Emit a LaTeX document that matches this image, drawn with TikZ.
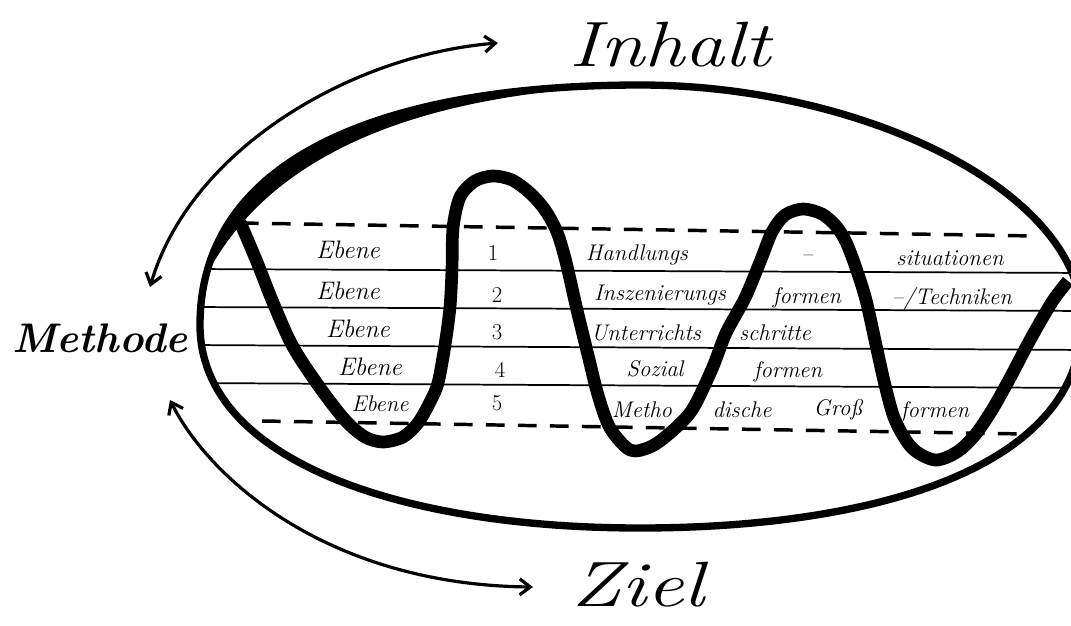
\documentclass[tikz,border=0pt]{standalone}
\usepackage{graphicx}
\usetikzlibrary{arrows.meta}
\begin{document}
\begin{tikzpicture}[x=0.75pt,y=-0.75pt,
  lbl/.style={inner sep=0pt, font=\fontsize{17}{19}\selectfont\itshape},
  lvl/.style={inner sep=0pt, font=\fontsize{19}{21}\selectfont\itshape},
  num/.style={inner sep=0pt, font=\fontsize{17}{19}\selectfont},
  big/.style={inner sep=0pt, font=\fontsize{48}{52}\selectfont\itshape},
  heavy/.style={inner sep=0pt, font=\fontsize{31}{35}\selectfont\bfseries\itshape},
  rule/.style={line width=1.3pt},
  dashrule/.style={line width=2.6pt, dash pattern=on 14pt off 10pt},
  wave/.style={line width=9.5pt, line cap=butt, line join=round},
  rim/.style={line width=5.5pt},
  cycleline/.style={line width=2.4pt, {Straight Barb[length=8pt,width=12pt]}-{Straight Barb[length=8pt,width=12pt]}}
]
\useasboundingbox (0,0) rectangle (1071,625);
\fill[white] (0,0) rectangle (1071,625);

% horizontal rules inside the oval
\begin{scope}
\clip (200,325) .. controls (200,150) and (400,85) .. (640,85)
  .. controls (860,85) and (1082,190) .. (1082,320)
  .. controls (1082,470) and (870,528) .. (640,528)
  .. controls (400,528) and (200,460) .. (200,325) -- cycle;
\coordinate (r1a) at (190,269); \coordinate (r1b) at (1090,273);
\coordinate (r2a) at (190,307); \coordinate (r2b) at (1090,311);
\coordinate (r3a) at (190,345); \coordinate (r3b) at (1090,350);
\coordinate (r4a) at (190,383); \coordinate (r4b) at (1090,388);
\draw[rule] (r1a) -- (r1b);
\draw[rule] (r2a) -- (r2b);
\draw[rule] (r3a) -- (r3b);
\draw[rule] (r4a) -- (r4b);
\end{scope}

% dashed bounds
\coordinate (dta) at (240,223); \coordinate (dtb) at (1035,236);
\coordinate (dba) at (262,421); \coordinate (dbb) at (1025,434);
\draw[dashrule] (dta) -- (dtb);
\draw[dashrule] (dba) -- (dbb);

% the wave
\draw[wave] plot[smooth, tension=0.5] coordinates {(240,222) (257,262) (272,300) (292,345) (318,385) (345,420) (365,437) (383,442) (403,437) (418,423) (430,402) (438,383) (445,345) (450,307) (452,269) (453,228) (460,197) (475,181) (493,176) (512,180) (530,193) (545,210) (557,232) (566,262) (577,310) (588,355) (598,395) (610,428) (630,450) (650,447) (670,433) (692,410) (712,369) (726,333) (745,298) (760,262) (772,232) (785,215) (803,209) (822,214) (836,226) (846,242) (856,268) (866,300) (876,345) (885,385) (895,420) (912,448) (935,460) (957,452) (975,435) (992,410) (1010,378) (1030,340) (1052,302) (1068,281)};

% the oval
\draw[rim] (200,325) .. controls (200,150) and (400,85) .. (640,85)
  .. controls (860,85) and (1082,190) .. (1082,320)
  .. controls (1082,470) and (870,528) .. (640,528)
  .. controls (400,528) and (200,460) .. (200,325) -- cycle;
\fill (200,325) .. controls (200,150) and (400,85) .. (640,85)
  .. controls (440,92) and (275,143) .. (206,276) -- cycle;

% names and cycle arrows
\node[big] (inhalt) at (670,45) {\scalebox{1.25}[1]{Inhalt}};
\node[heavy] (methode) at (100,338) {Methode};
\node[big] (ziel) at (638,585) {\scalebox{1.3}[1]{Ziel}};
\coordinate (ia) at (150,287); \coordinate (ib) at (498,43);
\coordinate (za) at (170,400); \coordinate (zb) at (533,587);
\draw[cycleline] (ia) .. controls (190,150) and (350,55) .. (ib);
\draw[cycleline] (za) .. controls (210,480) and (330,585) .. (zb);

% level labels
\node[lvl] (e1) at (348,250) {Ebene};
\node[lvl] (e2) at (348,291) {Ebene};
\node[lvl] (e3) at (358,329) {Ebene};
\node[lvl] (e4) at (370,367) {Ebene};
\node[lbl] (e5) at (380,404) {Ebene};
\node[num] (n1) at (493,253) {1};
\node[num] (n2) at (497,295) {2};
\node[num] (n3) at (497,332) {3};
\node[num] (n4) at (500,370) {4};
\node[num] (n5) at (497,403) {5};

\node[lbl] (t1a) at (637,255) {Handlungs};
\node[lbl] (t1b) at (807,258) {--};
\node[lbl] (t1c) at (950,258) {situationen};
\node[lbl] (t2a) at (660,295) {Inszenierungs};
\node[lbl] (t2b) at (807,298) {formen};
\node[lbl] (t2c) at (952,299) {--/Techniken};
\node[lbl] (t3a) at (646,333) {Unterrichts};
\node[lbl] (t3b) at (775,333) {schritte};
\node[lbl] (t4a) at (655,369) {Sozial};
\node[lbl] (t4b) at (788,372) {formen};
\node[lbl] (t5a) at (642,410) {Metho};
\node[lbl] (t5b) at (742,410) {dische};
\node[lbl] (t5c) at (838,410) {Groß};
\node[lbl] (t5d) at (935,412) {formen};
\end{tikzpicture}
\end{document}
